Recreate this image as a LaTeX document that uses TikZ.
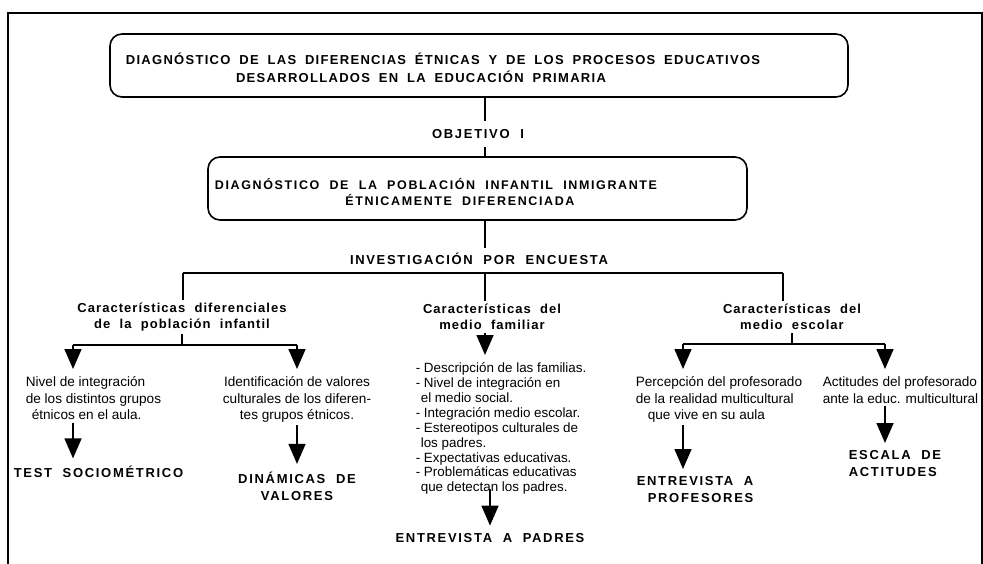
\documentclass[tikz,border=0pt]{standalone}
\usepackage{fontspec}
\setmainfont{Liberation Sans}
\newfontfamily\boxfont[LetterSpace=10,WordSpace=1.8]{Liberation Sans}
\newfontfamily\headfont[LetterSpace=8,WordSpace=2]{Liberation Sans}
\newfontfamily\capsfont[LetterSpace=13,WordSpace=2]{Liberation Sans}
\usetikzlibrary{arrows.meta}

\begin{document}
\begin{tikzpicture}[x=1pt,y=-1pt,
    line width=1.6pt,
    box/.style={draw, rounded corners=12pt, line width=1.6pt},
    title/.style={font=\boxfont\bfseries\fontsize{13}{15}\selectfont, inner sep=0pt},
    head/.style={font=\headfont\bfseries\fontsize{13}{16}\selectfont, align=center, inner sep=2pt},
    caps/.style={font=\capsfont\bfseries\fontsize{13}{17}\selectfont, align=center, inner sep=2pt},
    txt/.style={font=\fontsize{13.6}{16.5}\selectfont, align=left, inner sep=2pt},
    arr/.style={-{Triangle[length=20pt,width=17pt]}, shorten >=5pt},
]
\useasboundingbox (0,0) rectangle (983,564);

% frame
\draw[line width=1.8pt] (8,564) -- (8,13) -- (982,13) -- (982,564);

% top boxes
\node[box, minimum width=738pt, minimum height=63pt] (diag) at (479,65.5) {};
\node[title] (diag1) at (443,59) {DIAGNÓSTICO DE LAS DIFERENCIAS ÉTNICAS Y DE LOS PROCESOS EDUCATIVOS};
\node[title] (diag2) at (421,77) {DESARROLLADOS EN LA EDUCACIÓN PRIMARIA};

\node[caps, inner ysep=8pt] (obj) at (478,134) {OBJETIVO I};

\node[box, minimum width=539pt, minimum height=63pt] (pob) at (477.5,188.5) {};
\node[caps, font=\capsfont\bfseries\fontsize{12.5}{16}\selectfont] (pob1) at (436,184) {DIAGNÓSTICO DE LA POBLACIÓN INFANTIL INMIGRANTE};
\node[caps, font=\capsfont\bfseries\fontsize{12.5}{16}\selectfont] (pob2) at (460,200) {ÉTNICAMENTE DIFERENCIADA};

\node[caps, inner ysep=4pt] (inv) at (479,259) {INVESTIGACIÓN POR ENCUESTA};

\coordinate (spine) at (485,0);
\draw (diag.south -| spine) -- (spine |- obj.north);
\draw (obj.south -| spine) -- (spine |- pob.north);
\draw (pob.south -| spine) -- (spine |- inv.north);

% three branches
\node[head] (car1) at (182,317) {Características diferenciales\\de la población infantil};
\node[head] (car2) at (492,317) {Características del\\medio familiar};
\node[head] (car3) at (792,317) {Características del\\medio escolar};

\coordinate (bl) at (183,273);
\coordinate (br) at (783,273);
\draw (bl) -- (br);
\foreach \p/\c in {bl/car1, spine/car2, br/car3}
    \draw (\p |- bl) -- (\p |- \c.north);

% left branch
\coordinate (l1) at (73,345);
\coordinate (l2) at (297,345);
\draw (l1) -- (l2);
\draw (car1.south) -- (car1.south |- l1);

\node[txt, anchor=north west] (niv) at (23,374) {Nivel de integración\\de los distintos grupos\\\hspace{6pt}étnicos en el aula.};
\node[txt, anchor=north, align=center] (ide) at (297,374) {Identificación de valores\\culturales de los diferen-\\tes grupos étnicos.};

\node[caps, anchor=west] (test) at (11,472) {TEST SOCIOMÉTRICO};
\node[caps] (din) at (297,486) {DINÁMICAS DE\\VALORES};

\draw[arr] (l1) -- (l1 |- niv.north);
\draw[arr] (l2) -- (l2 |- ide.north);
\draw[arr] (niv.south -| l1) -- (l1 |- test.north);
\draw[arr] (ide.south -| l2) -- (l2 |- din.north);

% middle branch
\node[txt, anchor=north west, font=\fontsize{13.4}{14.9}\selectfont] (fam) at (413,360) {%
- Descripción de las familias.\\
- Nivel de integración en\\
\hspace{5pt}el medio social.\\
- Integración medio escolar.\\
- Estereotipos culturales de\\
\hspace{5pt}los padres.\\
- Expectativas educativas.\\
- Problemáticas educativas\\
\hspace{5pt}que detectan los padres.};
\node[caps] (pad) at (490,538) {ENTREVISTA A PADRES};

\draw[arr] (car2.south -| spine) -- (spine |- fam.north);
\draw[arr] ([yshift=8pt]fam.south -| pad) -- (pad.north);

% right branch
\coordinate (r1) at (683,344);
\coordinate (r2) at (885,344);
\draw (r1) -- (r2);
\draw (car3.south) -- (car3.south |- r1);

\node[txt, anchor=north west] (per) at (633,374) {Percepción del profesorado\\de la realidad multicultural\\\hspace{12pt}que vive en su aula};
\node[txt, anchor=north west] (act) at (820,374) {Actitudes del profesorado\\ante la educ. multicultural};

\node[caps, anchor=north west, align=left] (ent) at (634,474) {ENTREVISTA A\\\hspace{11pt}PROFESORES};
\node[caps, anchor=north west, align=left] (esc) at (846,448) {ESCALA DE\\ACTITUDES};

\draw[arr] (r1) -- (r1 |- per.north);
\draw[arr] (r2) -- (r2 |- act.north);
\draw[arr] (per.south -| r1) -- (r1 |- ent.north);
\draw[arr] (act.south -| r2) -- (r2 |- esc.north);

\end{tikzpicture}
\end{document}
